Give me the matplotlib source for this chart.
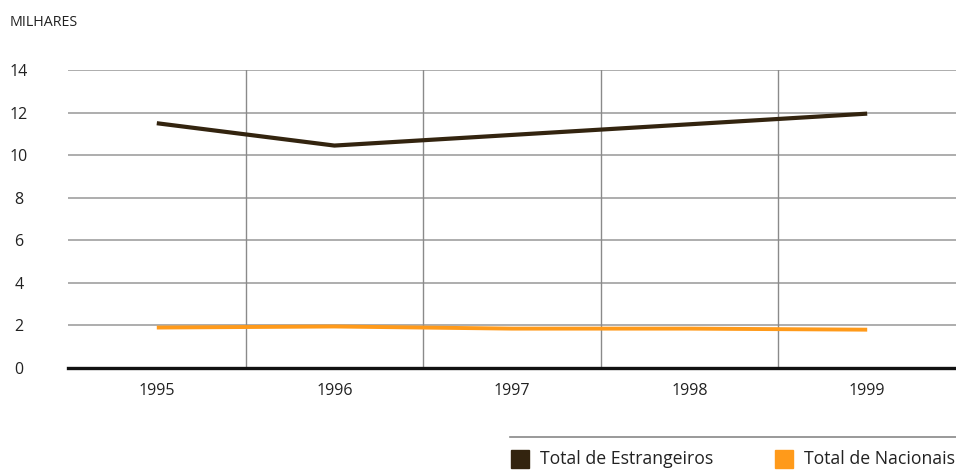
import matplotlib
matplotlib.use("Agg")
import matplotlib.pyplot as plt
from matplotlib.patches import Rectangle
from matplotlib.lines import Line2D

years = [1995, 1996, 1997, 1998, 1999]
estrangeiros = [11.5, 10.45, 10.95, 11.45, 11.95]
nacionais = [1.9, 1.95, 1.85, 1.85, 1.8]
y_ticks = [0, 2, 4, 6, 8, 10, 12, 14]
series_names = ["Total de Estrangeiros", "Total de Nacionais"]
colors = ["#33240f", "#ff9a1a"]

plt.rcParams['font.family'] = ['Open Sans', 'DejaVu Sans']

fig = plt.figure(figsize=(9.56, 4.70), dpi=100)
ax = fig.add_axes([68/956, 1-368/470, 1-68/956, (368-70)/470])

ax.set_xlim(1994.5, 1999.5)
ax.set_ylim(0, 14)

for yv in y_ticks[1:]:
    ax.axhline(yv, color="#a0a0a0", lw=1.2, zorder=1)
for xv in years[:-1]:
    ax.axvline(xv + 0.5, color="#8a8a8a", lw=1.0, zorder=1)
ax.axhline(0, color="#111111", lw=2.4, zorder=3, clip_on=False)

ax.plot(years, estrangeiros, color=colors[0], lw=3.0, solid_capstyle="butt", zorder=4)
ax.plot(years, nacionais, color=colors[1], lw=2.8, solid_capstyle="butt", zorder=4)

for s in ax.spines.values():
    s.set_visible(False)
ax.set_xticks(years)
ax.set_xticklabels([str(y) for y in years], fontsize=11.5, color="#222222")
ax.set_yticks(y_ticks)
ax.set_yticklabels([str(v) for v in y_ticks], fontsize=11.5, color="#222222")
ax.tick_params(axis="both", length=0)
ax.tick_params(axis="x", pad=11)
ax.tick_params(axis="y", pad=0)
for lab in ax.get_yticklabels():
    lab.set_horizontalalignment("center")
    lab.set_x(-0.055)

fig.text(10/956, 1-22/470, "MILHARES", fontsize=10.3, color="#222222", va="center", ha="left")

# legend
fig.add_artist(Line2D([510/956, 1.0], [1-437/470, 1-437/470], color="#888888", lw=1.2,
                      transform=fig.transFigure))
sq = 18
for i, (name, c, x0) in enumerate(zip(series_names, colors, [511, 775])):
    fig.add_artist(Rectangle((x0/956, 1-468/470), sq/956, sq/470, color=c,
                             transform=fig.transFigure))
    fig.text((x0 + 29)/956, 1-459/470, name, fontsize=12.7, color="#222222",
             va="center", ha="left")

fig.savefig("out.png", dpi=100, facecolor="white")
